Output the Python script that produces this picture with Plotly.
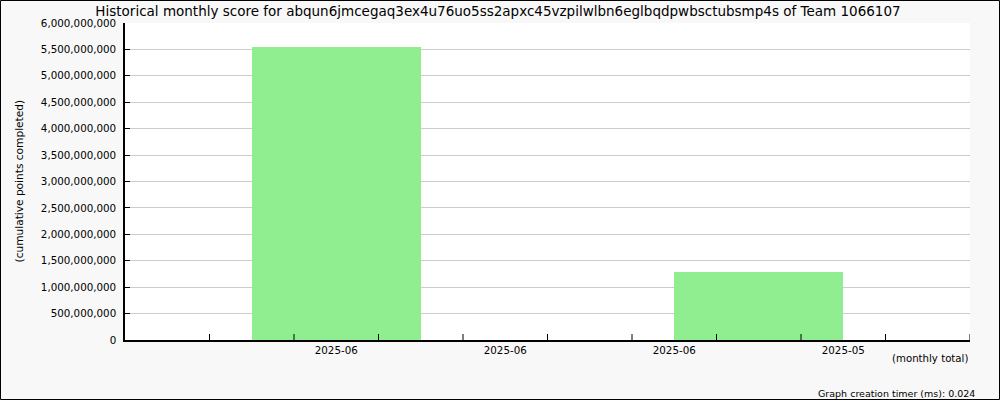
import plotly.graph_objects as go

title_text = "Historical monthly score for abqun6jmcegaq3ex4u76uo5ss2apxc45vzpilwlbn6eglbqdpwbsctubsmp4s of Team 1066107"
month_labels = ["2025-06", "2025-06", "2025-06", "2025-05"]
monthly_scores = [5540000000, 0, 1290000000, 0]
y_tick_values = [i * 500000000 for i in range(13)]

# layout helpers (positions of slots on a numeric axis)
bar_pos = [(i + 1) * 2.5 for i in range(len(monthly_scores))]
label_pos = [2.5 + 2 * i for i in range(len(month_labels))]

L, R, T, B = 125, 30, 23, 60
W, H = 1000, 400
pw, ph = W - L - R, H - T - B

fig = go.Figure()
fig.add_trace(go.Bar(
    x=bar_pos, y=monthly_scores, width=2.0,
    marker=dict(color="#90ee90", line=dict(width=0)),
    hoverinfo="y",
))

font = dict(family="DejaVu Sans", size=10.3, color="#000000")
small = dict(family="DejaVu Sans", size=10.2, color="#000000")
footer = dict(family="DejaVu Sans", size=9.5, color="#000000")

fig.update_layout(
    width=W, height=H,
    margin=dict(l=L, r=R, t=T, b=B, pad=0),
    paper_bgcolor="#f8f8f8",
    plot_bgcolor="#ffffff",
    showlegend=False,
    font=font,
    bargap=0,
    title=dict(text=title_text, x=0.498, xanchor="center", y=1 - 11 / H, yanchor="middle",
               font=dict(family="DejaVu Sans", size=13.5, color="#000000")),
    xaxis=dict(
        range=[0, 10], showgrid=False, zeroline=False,
        showline=True, linecolor="#000000", linewidth=1.5,
        tickmode="array", tickvals=label_pos, ticktext=month_labels,
        ticks="", tickfont=font,
    ),
    yaxis=dict(
        range=[0, 6000000000], tickmode="array", tickvals=y_tick_values,
        tickformat=",d", showgrid=True, gridcolor="#cccccc", gridwidth=1,
        zeroline=False, showline=True, linecolor="#000000", linewidth=1.5,
        ticks="inside", ticklen=5, tickcolor="#000000", tickfont=font,
        ticklabelstandoff=5,
    ),
)

# minor tick marks along the x axis (inside, pointing up)
for k in range(1, 11):
    fig.add_shape(type="line", xref="x", yref="paper", x0=k, x1=k, y0=0, y1=6 / ph,
                  line=dict(color="#000000", width=1))

# outer border around the whole image
fig.add_shape(type="rect", xref="paper", yref="paper",
              x0=-(L - 0.5) / pw, x1=(W - L - 0.5) / pw,
              y0=-(B - 0.5) / ph, y1=(H - B - 0.5) / ph,
              line=dict(color="#000000", width=1), fillcolor="rgba(0,0,0,0)", layer="above")

fig.add_annotation(text="(cumulative points completed)", xref="paper", yref="paper",
                   x=0, y=0.5, xshift=-(L - 18), textangle=-90, showarrow=False,
                   xanchor="center", yanchor="middle",
                   font=dict(family="DejaVu Sans", size=10.6, color="#000000"))
fig.add_annotation(text="(monthly total)", xref="paper", yref="paper",
                   x=1, y=0, yshift=-18, showarrow=False,
                   xanchor="right", yanchor="middle", font=small)
fig.add_annotation(text="Graph creation timer (ms): 0.024", xref="paper", yref="paper",
                   x=1, y=0, xshift=R - 23, yshift=-(B - 7), showarrow=False,
                   xanchor="right", yanchor="middle", font=footer)

fig.write_html("out.html", config={"displayModeBar": False},
               post_script="document.body.style.margin='0';document.body.style.overflow='hidden';")
